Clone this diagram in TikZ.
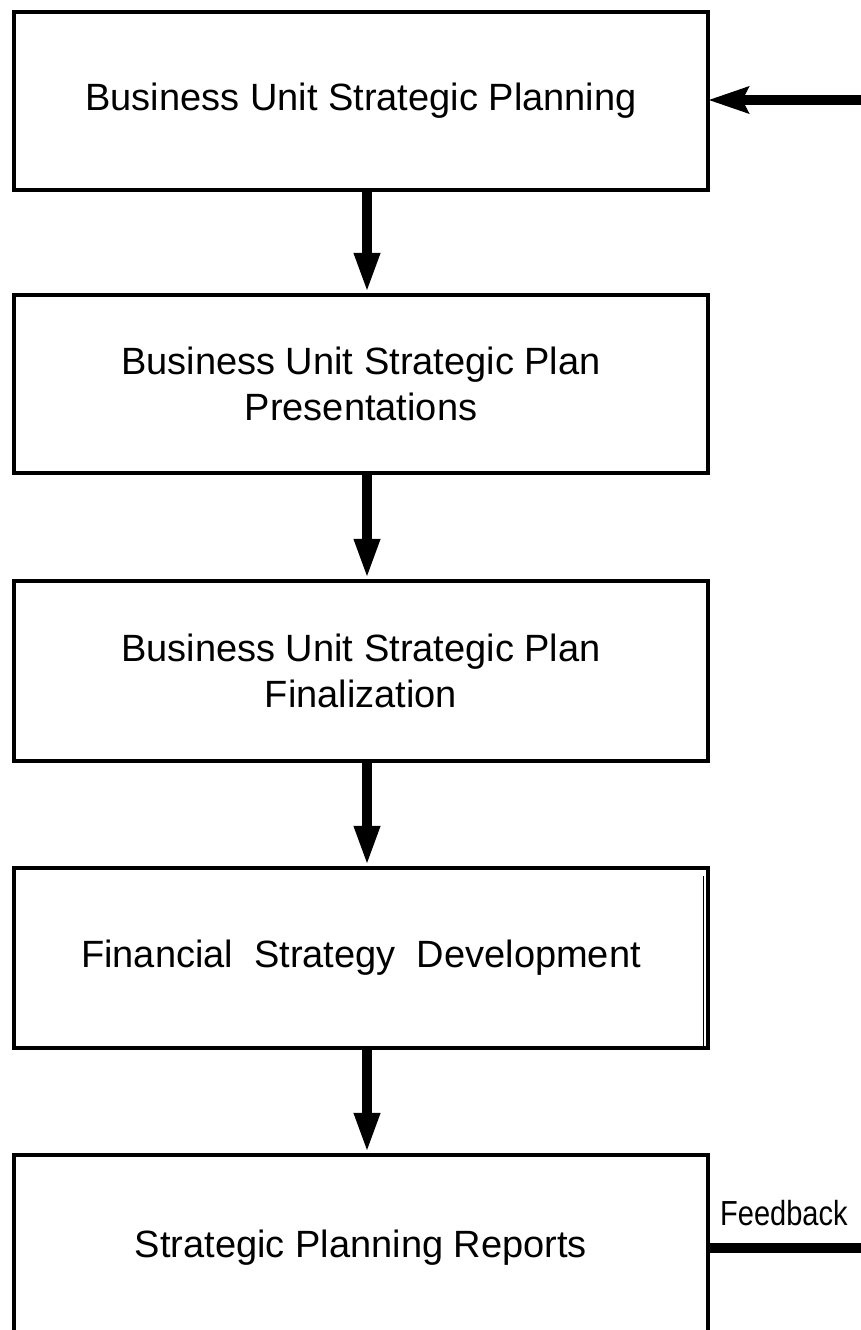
\documentclass[tikz,border=0pt]{standalone}
\usepackage{fontspec}
\setmainfont{Liberation Sans}
\usetikzlibrary{arrows.meta}
\begin{document}
\begin{tikzpicture}[x=1pt,y=-1pt,
  box/.style={draw, line width=4.5pt, minimum width=694pt, minimum height=178pt,
    align=center, inner sep=0pt, font=\fontsize{38}{46}\selectfont},
  flow/.style={line width=9.5pt, -{Triangle[length=40pt,width=24pt]}},
  inflow/.style={line width=10pt, -{Stealth[length=40pt,width=26pt,inset=6pt]}, shorten >=-2pt},
  fbline/.style={line width=10pt}]
\useasboundingbox (0,0) rectangle (861,1330);
\clip (0,0) rectangle (861,1330);
\node[box] (b1) at (361,101) {Business Unit Strategic Planning};
\node[box] (b2) at (361,384) {Business Unit Strategic Plan\\Presentations};
\node[box, minimum height=180pt] (b3) at (361,671) {Business Unit Strategic Plan\\Finalization};
\node[box, minimum height=180pt] (b4) at (361,958) {Financial\ \ Strategy\ \ Development};
\node[box, minimum height=186pt] (b5) at (361,1248) {Strategic Planning Reports};
\draw[flow] ([xshift=6pt]b1.south) -- ([xshift=6pt]b2.north);
\draw[flow] ([xshift=6pt]b2.south) -- ([xshift=6pt]b3.north);
\draw[flow] ([xshift=6pt]b3.south) -- ([xshift=6pt]b4.north);
\draw[flow] ([xshift=6pt]b4.south) -- ([xshift=6pt]b5.north);
\coordinate (in) at (861,100);
\draw[inflow] (in) -- (b1.east |- in);
\coordinate (fbend) at (861,1248);
\draw[fbline] (b5.east) -- (fbend);
\node[anchor=base west, inner sep=0pt, yscale=1.2, font=\fontsize{29}{34}\selectfont] (fb) at (720,1225) {Feedback};
\draw[line width=1.2pt] (703.5,876) -- (703.5,1046);
\end{tikzpicture}
\end{document}
